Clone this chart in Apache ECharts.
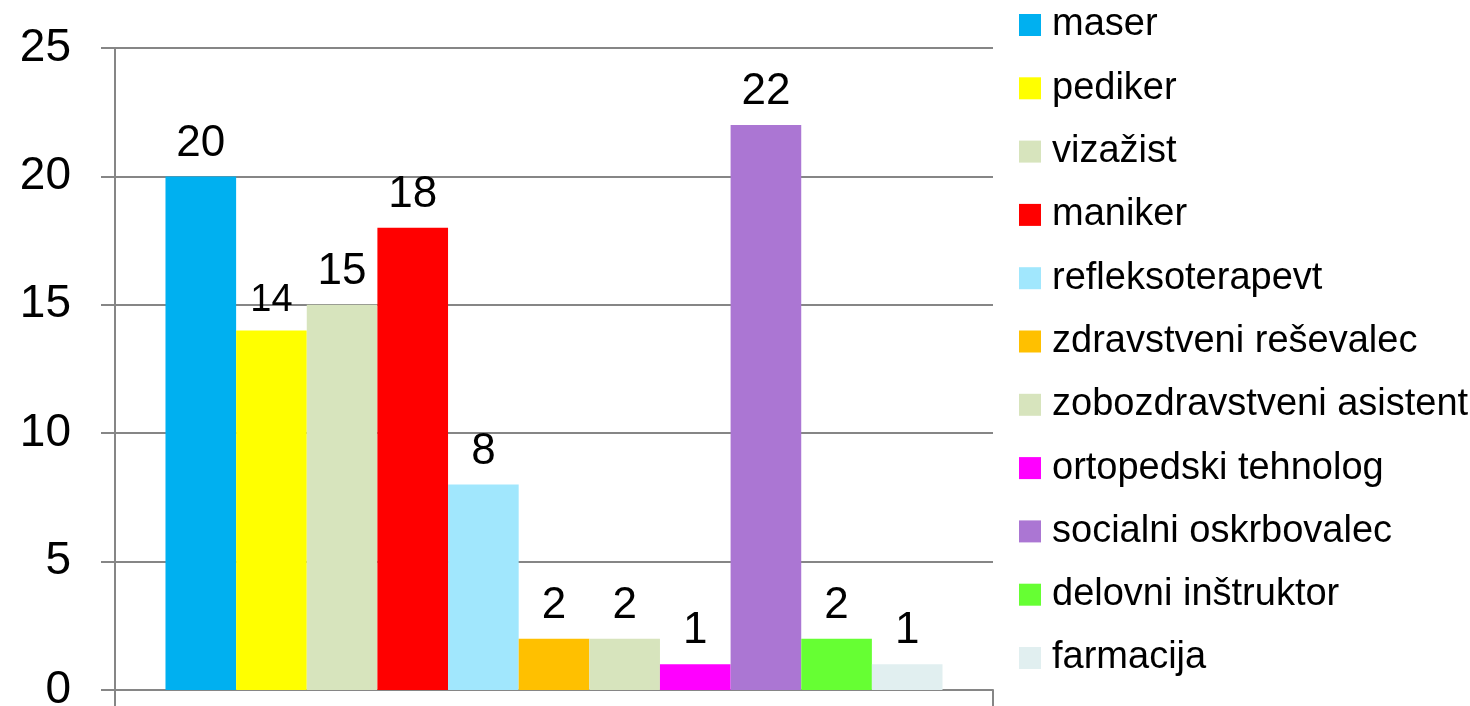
<!DOCTYPE html>
<html>
<head>
<meta charset="utf-8">
<script src="https://cdn.jsdelivr.net/npm/echarts@6/dist/echarts.min.js"></script>
<style>html,body{margin:0;padding:0;background:#fff;}#c{width:1470px;height:706px;}</style>
</head>
<body>
<div id="c"></div>
<script>
const categories = [''];
const seriesNames = ['maser','pediker','vizažist','maniker','refleksoterapevt','zdravstveni reševalec','zobozdravstveni asistent','ortopedski tehnolog','socialni oskrbovalec','delovni inštruktor','farmacija'];
const seriesValues = [20,14,15,18,8,2,2,1,22,2,1];
const seriesColors = ['#00B0F0','#FFFF00','#D7E4BD','#FF0000','#A1E7FD','#FFC000','#D7E4BD','#FF00FF','#AB76D3','#66FF33','#E1EFF0'];
const labelSizes = [44,38,44,44,44,44,44,44,44,44,44];
const yTicks = [0,5,10,15,20,25];

const font = '"Liberation Sans", Arial, sans-serif';
const chart = echarts.init(document.getElementById('c'));
chart.setOption({
  animation: false,
  backgroundColor: '#fff',
  grid: {left: 115, right: 477, top: 48, bottom: 16, containLabel: false, outerBoundsMode: 'none'},
  legend: {
    orient: 'vertical', left: 1019, top: 6, padding: 0,
    itemWidth: 22, itemHeight: 22, itemGap: 25.3,
    icon: 'rect',
    data: seriesNames,
    textStyle: {fontFamily: font, fontSize: 38, color: '#000', padding: [0,0,0,6]},
    itemStyle: {borderWidth: 0}
  },
  xAxis: {
    type: 'category', data: categories,
    axisLine: {lineStyle: {color: '#868686', width: 2}},
    axisTick: {show: true, length: 16, inside: false, alignWithLabel: false, lineStyle: {color: '#868686', width: 2}},
    axisLabel: {show: false}
  },
  yAxis: {
    type: 'value', min: yTicks[0], max: yTicks[yTicks.length-1], interval: 5,
    axisLine: {show: true, lineStyle: {color: '#868686', width: 2}},
    axisTick: {show: true, length: 14, lineStyle: {color: '#868686', width: 2}},
    splitLine: {show: true, lineStyle: {color: '#868686', width: 2}},
    axisLabel: {fontFamily: font, fontSize: 46, color: '#000', margin: 44}
  },
  series: seriesNames.map((n, i) => ({
    name: n, type: 'bar',
    data: [seriesValues[i]],
    barGap: '0%', barCategoryGap: '11.5%',
    itemStyle: {color: seriesColors[i]},
    label: {show: true, position: 'top', distance: 11, fontFamily: font, fontSize: labelSizes[i], color: '#000'}
  }))
});
</script>
</body>
</html>
